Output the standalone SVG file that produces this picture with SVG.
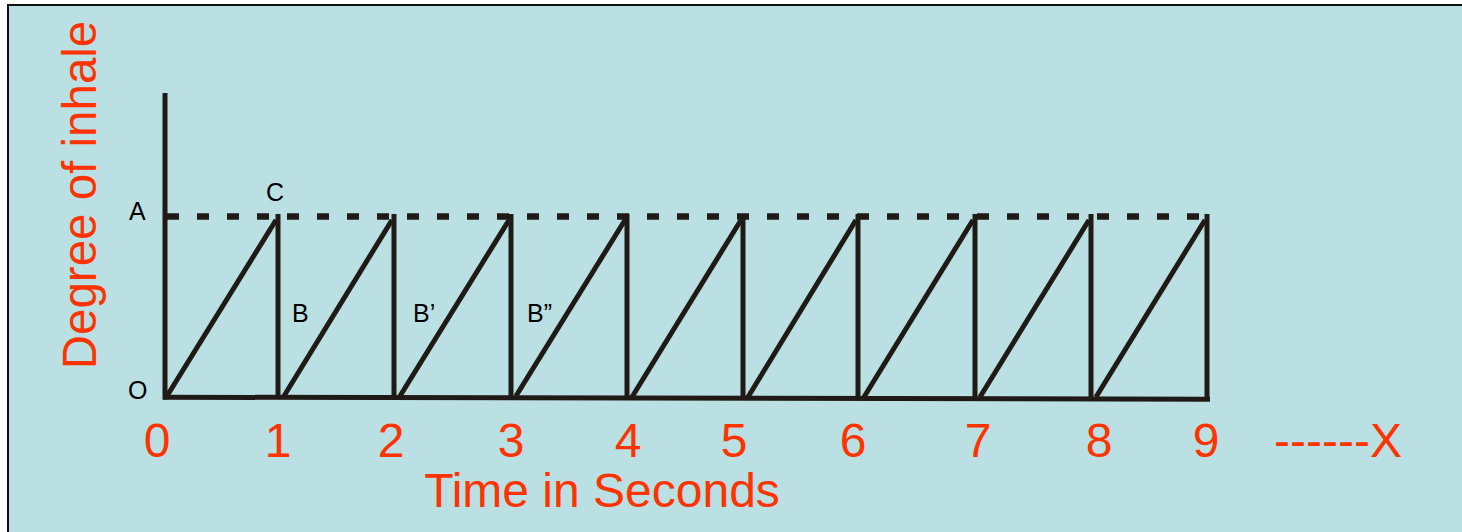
<svg xmlns="http://www.w3.org/2000/svg" width="1462" height="532" viewBox="0 0 1462 532">
<style>
.ln{stroke:#201a17;stroke-width:5;fill:none;stroke-linecap:butt}
.lbl{font-family:"Liberation Sans",Arial,sans-serif;font-size:25px;fill:#000}
.or{font-family:"Liberation Sans",Arial,sans-serif;fill:#ff3300}
</style>
<rect x="0" y="0" width="1462" height="532" fill="#ffffff"/>
<rect x="8" y="5" width="1470" height="540" fill="#bbe0e3" stroke="#111" stroke-width="2"/>
<g id="connectors">
<line class="ln" x1="165" y1="93" x2="165" y2="399.5"/>
<path class="ln" d="M163 397.2 L1210 399.2"/>
<line x1="167" y1="216.5" x2="1210" y2="216.5" stroke="#201a17" stroke-width="6.5" stroke-dasharray="12 18"/>
<g id="verticals">
<line class="ln" x1="278" y1="214" x2="278" y2="398"/>
<line class="ln" x1="394" y1="214" x2="394" y2="398"/>
<line class="ln" x1="511" y1="214" x2="511" y2="398"/>
<line class="ln" x1="627" y1="214" x2="627" y2="398"/>
<line class="ln" x1="743" y1="214" x2="743" y2="398"/>
<line class="ln" x1="858" y1="214" x2="858" y2="399"/>
<line class="ln" x1="975" y1="214" x2="975" y2="399"/>
<line class="ln" x1="1091" y1="214" x2="1091" y2="399"/>
<line class="ln" x1="1207" y1="214" x2="1207" y2="401"/>
</g>
<g id="diagonals">
<line class="ln" x1="167" y1="396" x2="276" y2="220"/>
<line class="ln" x1="284" y1="396" x2="392" y2="220"/>
<line class="ln" x1="400" y1="396" x2="509" y2="220"/>
<line class="ln" x1="516" y1="396" x2="625" y2="220"/>
<line class="ln" x1="632" y1="397" x2="741" y2="220"/>
<line class="ln" x1="748" y1="397" x2="856" y2="220"/>
<line class="ln" x1="864" y1="397" x2="973" y2="220"/>
<line class="ln" x1="980" y1="397" x2="1089" y2="220"/>
<line class="ln" x1="1096" y1="397" x2="1205" y2="220"/>
</g>
</g>
<g id="labels">
<text class="lbl" x="129" y="220">A</text>
<text class="lbl" x="266" y="201">C</text>
<text class="lbl" x="128" y="399">O</text>
<text class="lbl" x="292" y="322">B</text>
<text class="lbl" x="413" y="322">B’</text>
<text class="lbl" x="527" y="322">B”</text>
</g>
<g id="ticks" class="or" font-size="48" text-anchor="middle">
<text x="157" y="457">0</text>
<text x="278" y="457">1</text>
<text x="391" y="457">2</text>
<text x="511" y="457">3</text>
<text x="628" y="457">4</text>
<text x="734" y="457">5</text>
<text x="853" y="457">6</text>
<text x="978" y="457">7</text>
<text x="1099" y="457">8</text>
<text x="1206" y="457">9</text>
</g>
<text class="or" font-size="48" x="1274" y="457">------X</text>
<text class="or" font-size="48" x="602" y="507" text-anchor="middle">Time in Seconds</text>
<text class="or" font-size="47.5" text-anchor="middle" transform="translate(96,195) rotate(-90)">Degree of inhale</text>
</svg>
